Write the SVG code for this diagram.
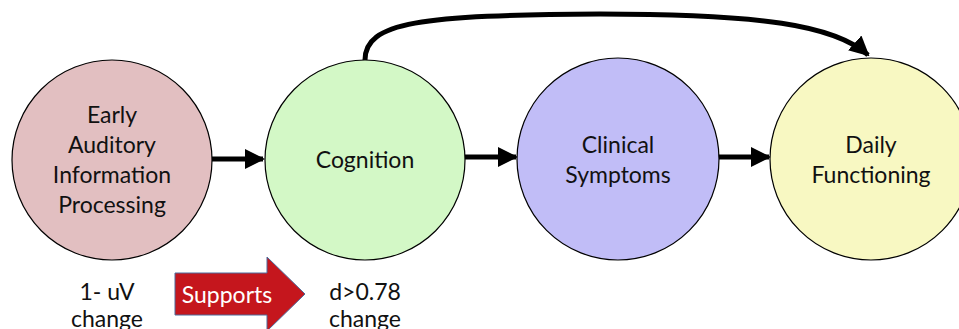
<svg xmlns="http://www.w3.org/2000/svg" width="959" height="329" viewBox="0 0 959 329">
<defs>
<style>
.node{stroke:#000;stroke-width:1.2}
.t{font-family:Lato,"Open Sans",sans-serif;font-size:23px;fill:#111;text-anchor:middle}
.conn{stroke:#000;stroke-width:5;fill:none}
</style>
<marker id="ah" markerWidth="4" markerHeight="4" refX="3.6" refY="2" orient="auto" markerUnits="strokeWidth" viewBox="0 0 4 4">
<path d="M0,0 L4,2 L0,4 Z" fill="#000"/>
</marker>
</defs>
<rect width="959" height="329" fill="#fff"/>
<g id="connectors">
<line class="conn" x1="212" y1="159" x2="263" y2="159" marker-end="url(#ah)"/>
<line class="conn" x1="465" y1="157" x2="516" y2="157" marker-end="url(#ah)"/>
<line class="conn" x1="718" y1="157" x2="769" y2="157" marker-end="url(#ah)"/>
<path class="conn" d="M365,60 C365,22 420,15 600,14 C760,14 835,25 868,55" marker-end="url(#ah)"/>
</g>
<g id="n1"><circle class="node" cx="112" cy="160" r="100" fill="#E2BFC1"/>
<text class="t" x="112" y="123">Early</text><text class="t" x="112" y="153">Auditory</text><text class="t" x="112" y="183">Information</text><text class="t" x="112" y="213">Processing</text></g>
<g id="n2"><circle class="node" cx="365" cy="160" r="100" fill="#D3F8C6"/>
<text class="t" x="365" y="168">Cognition</text></g>
<g id="n3"><circle class="node" cx="618" cy="159" r="101" fill="#C1BDF7"/>
<text class="t" x="618" y="153">Clinical</text><text class="t" x="618" y="183">Symptoms</text></g>
<g id="n4"><circle class="node" cx="871" cy="159" r="101" fill="#F8F8C2"/>
<text class="t" x="871" y="153">Daily</text><text class="t" x="871" y="183">Functioning</text></g>
<g id="supports">
<path d="M175,273 L267,273 L267,257 L305,294 L267,331 L267,315 L175,315 Z" fill="#C5161D" stroke="#4C6A9C" stroke-width="1"/>
<text class="t" x="227" y="303" style="fill:#fff">Supports</text>
</g>
<g id="labels">
<text class="t" x="107" y="300">1- uV</text><text class="t" x="107" y="327">change</text>
<text class="t" x="365" y="300">d&gt;0.78</text><text class="t" x="365" y="327">change</text>
</g>
</svg>
